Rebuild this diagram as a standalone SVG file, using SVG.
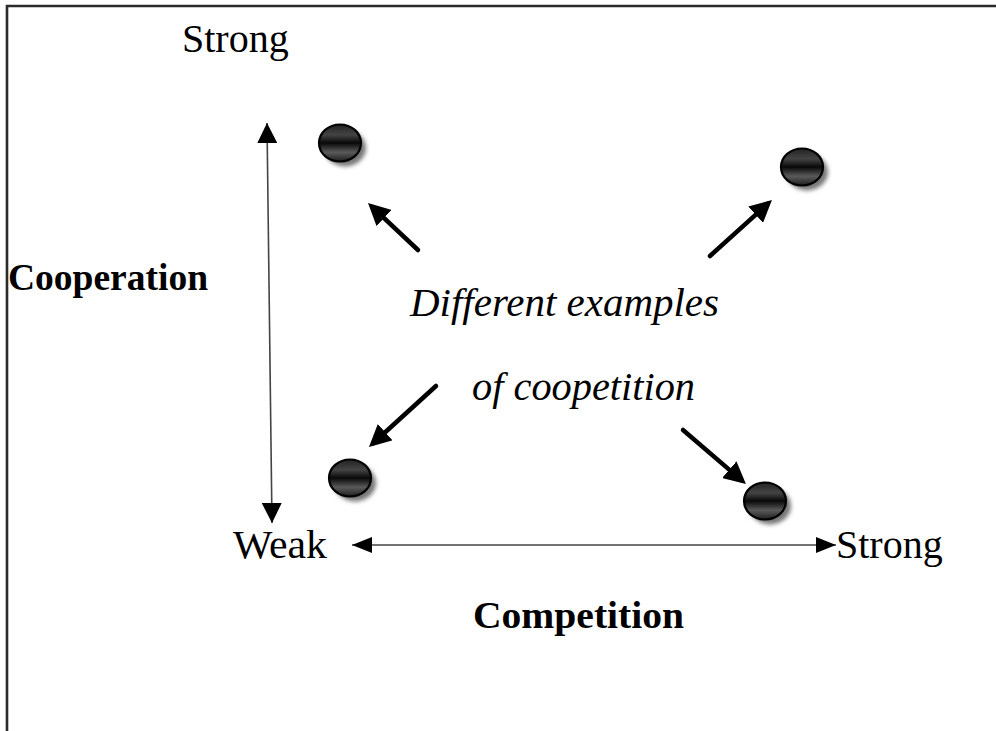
<svg xmlns="http://www.w3.org/2000/svg" width="996" height="731" viewBox="0 0 996 731">
  <style>
    .lbl { font-family: "Liberation Serif", "Times New Roman", serif; fill: #000; }
    .axis { font-size: 40px; }
    .bold { font-size: 38px; font-weight: bold; }
    .ital { font-size: 40px; font-style: italic; }
    .axisline { stroke: #444; stroke-width: 1.6; fill: none; }
    .ptr { stroke: #000; stroke-width: 4.5; stroke-linecap: round; fill: none; marker-end: url(#headBig); }
    .ball { fill: url(#gloss); stroke: #000; stroke-width: 2.2; }
    .shade { fill: #777; filter: url(#soft); }
  </style>
  <defs>
    <marker id="headThin" viewBox="0 0 20 20" refX="20" refY="10" markerWidth="20" markerHeight="20" markerUnits="userSpaceOnUse" orient="auto-start-reverse">
      <path d="M0,0 L20,10 L0,20 z" fill="#000"/>
    </marker>
    <marker id="headH" viewBox="0 0 20 16" refX="20" refY="8" markerWidth="20" markerHeight="16" markerUnits="userSpaceOnUse" orient="auto-start-reverse">
      <path d="M0,0 L20,8 L0,16 z" fill="#000"/>
    </marker>
    <marker id="headBig" viewBox="0 0 22 22" refX="16" refY="11" markerWidth="22" markerHeight="22" markerUnits="userSpaceOnUse" orient="auto">
      <path d="M0,0 L22,11 L0,22 z" fill="#000"/>
    </marker>
    <linearGradient id="gloss" x1="0" y1="0" x2="0" y2="1">
      <stop offset="0" stop-color="#222"/>
      <stop offset="0.28" stop-color="#444"/>
      <stop offset="0.5" stop-color="#080808"/>
      <stop offset="0.75" stop-color="#5a5a5a"/>
      <stop offset="1" stop-color="#1e1e1e"/>
    </linearGradient>
    <filter id="soft" x="-30%" y="-30%" width="160%" height="160%">
      <feGaussianBlur stdDeviation="2"/>
    </filter>
  </defs>

  <rect width="996" height="731" fill="#fff"/>

  <!-- frame: left and top edges only -->
  <path d="M7,731 L7,6 L996,6" fill="none" stroke="#2a2a2a" stroke-width="2.6"/>

  <!-- axis labels -->
  <g id="cooperation-axis-labels">
    <text class="lbl axis" x="182" y="52">Strong</text>
    <text class="lbl axis" x="233" y="558" textLength="94" lengthAdjust="spacingAndGlyphs">Weak</text>
    <text class="lbl bold" x="8" y="290" textLength="200" lengthAdjust="spacingAndGlyphs">Cooperation</text>
  </g>
  <g id="competition-axis-labels">
    <text class="lbl axis" x="836" y="558">Strong</text>
    <text class="lbl bold" x="473" y="628" textLength="211" lengthAdjust="spacingAndGlyphs">Competition</text>
  </g>

  <!-- central caption -->
  <g id="caption">
    <text class="lbl ital" x="410" y="316" textLength="309" lengthAdjust="spacingAndGlyphs">Different examples</text>
    <text class="lbl ital" x="472" y="400" textLength="223" lengthAdjust="spacingAndGlyphs">of coopetition</text>
  </g>

  <!-- example points -->
  <g id="point-top-left">
    <ellipse class="shade" cx="345" cy="148" rx="21" ry="18.5"/>
    <ellipse class="ball" cx="340" cy="143" rx="21" ry="18.5"/>
  </g>
  <g id="point-top-right">
    <ellipse class="shade" cx="807" cy="172" rx="21" ry="18.5"/>
    <ellipse class="ball" cx="802" cy="167" rx="21" ry="18.5"/>
  </g>
  <g id="point-bottom-left">
    <ellipse class="shade" cx="355" cy="483" rx="21" ry="18.5"/>
    <ellipse class="ball" cx="350" cy="478" rx="21" ry="18.5"/>
  </g>
  <g id="point-bottom-right">
    <ellipse class="shade" cx="770" cy="506" rx="21" ry="18.5"/>
    <ellipse class="ball" cx="765" cy="501" rx="21" ry="18.5"/>
  </g>

  <!-- connectors -->
  <g id="connectors">
    <line class="axisline" x1="267" y1="123" x2="272" y2="523" marker-start="url(#headThin)" marker-end="url(#headThin)"/>
    <line class="axisline" x1="352" y1="545" x2="836" y2="545" stroke="#000" marker-start="url(#headH)" marker-end="url(#headH)"/>
    <line class="ptr" x1="418" y1="250" x2="372.4" y2="207.1"/>
    <line class="ptr" x1="710" y1="256" x2="767.5" y2="204"/>
    <line class="ptr" x1="436" y1="386" x2="373.4" y2="443"/>
    <line class="ptr" x1="683" y1="430" x2="741.4" y2="480.1"/>
  </g>
</svg>
